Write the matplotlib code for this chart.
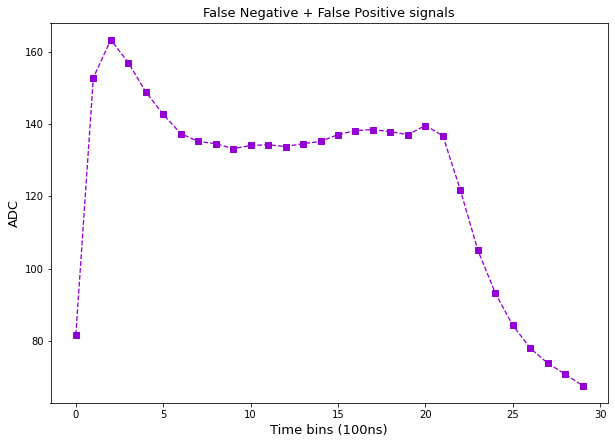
import matplotlib
matplotlib.use("Agg")
import matplotlib.pyplot as plt

# ADC samples per 100ns time bin
time_bins = list(range(30))
adc = [81.8, 152.8, 163.3, 157.0, 148.9, 142.7, 137.4, 135.2, 134.6, 133.2,
       134.1, 134.3, 133.8, 134.6, 135.2, 137.1, 138.2, 138.5, 137.9, 137.1,
       139.6, 136.8, 121.8, 105.2, 93.3, 84.4, 78.1, 73.9, 70.9, 67.7]

fig = plt.figure(figsize=(615 / 72, 444 / 72), dpi=72)
ax = fig.add_axes([50.5 / 615, 41 / 444, 557.5 / 615, 380.5 / 444])
ax.plot(time_bins, adc, "s--", color="darkviolet", markersize=6, linewidth=1.3)
ax.set_title("False Negative + False Positive signals", fontsize=13)
ax.set_xlabel("Time bins (100ns)", fontsize=13)
ax.set_ylabel("ADC", fontsize=13)
ax.tick_params(labelsize=10)
fig.savefig("out.png", dpi=72)
